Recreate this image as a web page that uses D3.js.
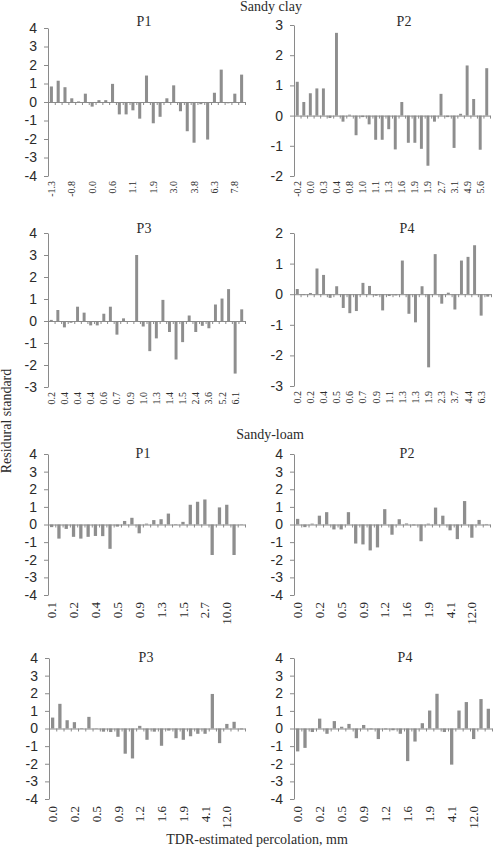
<!DOCTYPE html>
<html>
<head>
<meta charset="utf-8">
<script src="https://cdn.jsdelivr.net/npm/d3@7"></script>
<style>
  body { margin: 0; background: #fff; }
  svg { display: block; font-family: "Liberation Serif", "DejaVu Serif", serif; }
</style>
</head>
<body>
<svg id="chart" width="495" height="848"></svg>
<script>
/* ----------------------
 data
 ----------------------- */
// Sandy clay
var clayP1Ticks = ["-1.3", "-0.8", "0.0", "0.6", "1.1", "1.9", "3.0", "3.8", "6.3", "7.8"];
var clayP1Values = [0.84, 1.15, 0.8, 0.2, 0.03, 0.45, -0.25, 0.1, 0.1, 0.98, -0.67, -0.67, -0.45, -0.9, 1.43,
                    -1.15, -0.8, 0.2, 0.9, -0.5, -1.58, -2.2, -0.12, -2.03, 0.5, 1.75, -0.07, 0.45, 1.48];

var clayP2Ticks = ["-0.2", "0.0", "0.3", "0.4", "0.8", "1.0", "1.1", "1.3", "1.6", "1.9", "1.9", "2.7", "3.1", "4.9", "5.6"];
var clayP2Values = [1.12, 0.45, 0.74, 0.9, 0.9, -0.08, 2.74, -0.2, 0.03, -0.65, -0.05, -0.29, -0.8, -0.8, -0.45,
                    -1.12, 0.45, -0.9, -0.9, -1.1, -1.66, -0.2, 0.72, -0.05, -1.07, 0.06, 1.66, 0.55, -1.13, 1.57];

var clayP3Ticks = ["0.2", "0.4", "0.4", "0.4", "0.6", "0.7", "0.9", "1.0", "1.3", "1.4", "1.5", "2.4", "3.6", "5.2", "6.1"];
var clayP3Values = [0.05, 0.5, -0.29, -0.08, 0.65, 0.38, -0.2, -0.2, 0.33, 0.65, -0.62, 0.12, -0.03, 3.0, -0.25,
                    -1.37, -0.79, 0.96, -0.5, -1.75, -0.96, 0.25, -0.5, -0.22, -0.33, 0.75, 1.02, 1.45, -2.39, 0.53];

var clayP4Ticks = ["0.2", "0.2", "0.4", "0.5", "0.6", "0.7", "0.9", "1.1", "1.3", "1.3", "1.9", "2.3", "3.7", "4.4", "6.3"];
var clayP4Values = [0.17, -0.03, 0.04, 0.84, 0.63, -0.12, 0.26, -0.45, -0.62, -0.55, 0.37, 0.27, -0.05, -0.53, -0.06,
                    -0.04, 1.1, -0.64, -0.92, 0.26, -2.39, 1.31, -0.31, 0.05, -0.5, 1.1, 1.22, 1.6, -0.7, -0.08];

// Sandy-loam
var loamP1Ticks = ["0.1", "0.2", "0.4", "0.5", "0.9", "1.3", "1.5", "2.7", "10.0"];
var loamP1Values = [-0.15, -0.8, -0.25, -0.7, -0.8, -0.7, -0.65, -0.66, -1.38, -0.12, 0.2, 0.38, -0.5, 0.05,
                    0.25, 0.3, 0.62, -0.03, 0.15, 1.12, 1.29, 1.42, -1.73, 0.97, 1.12, -1.73, 0.02];

var loamTicks = ["0.0", "0.2", "0.5", "0.9", "1.2", "1.6", "1.9", "4.1", "12.0"];
var loamP2Values = [0.32, -0.15, 0.05, 0.5, 0.7, -0.28, -0.28, 0.7, -1.08, -1.13, -1.47, -1.3, 0.87, -0.58,
                    0.3, 0.06, -0.05, -0.95, 0.05, 0.96, 0.5, -0.33, -0.83, 1.33, -0.75, 0.26, 0.03];
var loamP3Values = [0.62, 1.4, 0.47, 0.36, -0.03, 0.66, -0.02, -0.18, -0.2, -0.47, -1.43, -1.7, 0.15, -0.64,
                    -0.18, -0.98, -0.12, -0.55, -0.64, -0.44, -0.3, -0.3, 1.96, -0.83, 0.26, 0.38, -0.05];
var loamP4Values = [-1.3, -1.1, -0.2, 0.56, -0.3, 0.42, 0.1, 0.26, -0.55, 0.2, -0.05, -0.6, -0.05, -0.1,
                    -0.3, -1.85, -0.74, 0.3, 1.02, 1.97, -0.2, -2.05, 1.02, 1.5, -0.6, 1.67, 1.12];

/* ----------------------
 layout
 ----------------------- */
var barColor = "#8e8e8e";
var axisColor = "#8a8a8a";
var textColor = "#2b2b2b";

var panels = [
  {title: "P1", values: clayP1Values, ticks: clayP1Ticks, every: 3, domain: [-4, 4],
   x: [48, 245], y: [176, 28], tx: 144, ty: 26, lab: 10, gap: 5},
  {title: "P2", values: clayP2Values, ticks: clayP2Ticks, every: 2, domain: [-2, 3],
   x: [294, 490], y: [176, 25], tx: 404, ty: 26, lab: 10, gap: 5},
  {title: "P3", values: clayP3Values, ticks: clayP3Ticks, every: 2, domain: [-3, 4],
   x: [48, 245], y: [387, 233], tx: 144, ty: 233, lab: 10, gap: 5},
  {title: "P4", values: clayP4Values, ticks: clayP4Ticks, every: 2, domain: [-3, 2],
   x: [294, 491], y: [386, 233], tx: 407, ty: 233, lab: 10, gap: 5},
  {title: "P1", values: loamP1Values, ticks: loamP1Ticks, every: 3, domain: [-4, 4],
   x: [48, 245], y: [595, 454], tx: 143, ty: 458, lab: 13, gap: 7},
  {title: "P2", values: loamP2Values, ticks: loamTicks, every: 3, domain: [-4, 4],
   x: [294, 490], y: [595, 454], tx: 407, ty: 458, lab: 13, gap: 7},
  {title: "P3", values: loamP3Values, ticks: loamTicks, every: 3, domain: [-4, 4],
   x: [49, 245], y: [799, 658], tx: 146, ty: 662, lab: 13, gap: 7},
  {title: "P4", values: loamP4Values, ticks: loamTicks, every: 3, domain: [-4, 4],
   x: [294, 492], y: [799, 658], tx: 405, ty: 662, lab: 13, gap: 7}
];

var svg = d3.select("#chart");

function drawPanel(p) {
  var g = svg.append("g");
  var n = p.values.length;
  var idx = d3.range(n);

  var x = d3.scaleBand().domain(idx).range(p.x).paddingInner(0.55).paddingOuter(0.275);
  var xEdge = d3.scaleLinear().domain([0, n]).range(p.x);
  var y = d3.scaleLinear().domain(p.domain).range(p.y);

  // bars
  g.selectAll("rect.bar")
    .data(p.values)
    .enter()
    .append("rect")
    .attr("class", "bar")
    .attr("x", function(d, i) { return x(i); })
    .attr("width", x.bandwidth())
    .attr("y", function(d) { return y(Math.max(0, d)); })
    .attr("height", function(d) { return Math.abs(y(d) - y(0)); })
    .attr("fill", barColor);

  // zero line with category dividers
  var zero = g.append("g")
    .attr("transform", "translate(0," + y(0) + ")")
    .call(d3.axisBottom(xEdge).tickValues(d3.range(n + 1)).tickSize(3).tickSizeOuter(0).tickFormat(""));

  // y axis
  var yTicks = d3.range(p.domain[0], p.domain[1] + 1);
  var ya = g.append("g")
    .attr("transform", "translate(" + p.x[0] + ",0)")
    .call(d3.axisLeft(y).tickValues(yTicks).tickSize(4).tickSizeOuter(0).tickPadding(7)
      .tickFormat(function(d) { return String(d); }));
  ya.selectAll("text").attr("font-size", 14).attr("font-family", null).attr("fill", textColor);

  [zero, ya].forEach(function(a) {
    a.selectAll("path, line").attr("stroke", axisColor).attr("stroke-width", 1);
  });

  // rotated category labels under the plot
  var shown = idx.filter(function(i) { return i % p.every === 0; });
  g.selectAll("text.cat")
    .data(shown)
    .enter()
    .append("text")
    .attr("class", "cat")
    .attr("transform", function(i) {
      return "translate(" + (x(i) + x.bandwidth() / 2 + p.lab * 0.35) + "," + (p.y[0] + p.gap) + ") rotate(-90)";
    })
    .attr("text-anchor", "end")
    .attr("font-size", p.lab)
    .attr("fill", textColor)
    .text(function(i) { return p.ticks[i / p.every]; });

  g.append("text")
    .attr("x", p.tx)
    .attr("y", p.ty)
    .attr("text-anchor", "middle")
    .attr("font-size", 14)
    .attr("fill", textColor)
    .text(p.title);
}

panels.forEach(drawPanel);

// section headings and shared axis titles
svg.append("text").attr("x", 271).attr("y", 11).attr("text-anchor", "middle")
  .attr("font-size", 14).attr("fill", textColor).text("Sandy clay");
svg.append("text").attr("x", 270).attr("y", 439).attr("text-anchor", "middle")
  .attr("font-size", 14).attr("fill", textColor).text("Sandy-loam");
svg.append("text").attr("transform", "translate(11,421) rotate(-90)").attr("text-anchor", "middle")
  .attr("font-size", 14).attr("fill", textColor).text("Residural standard");
svg.append("text").attr("x", 257).attr("y", 844).attr("text-anchor", "middle")
  .attr("font-size", 14).attr("fill", textColor).text("TDR-estimated percolation, mm");
</script>
</body>
</html>
